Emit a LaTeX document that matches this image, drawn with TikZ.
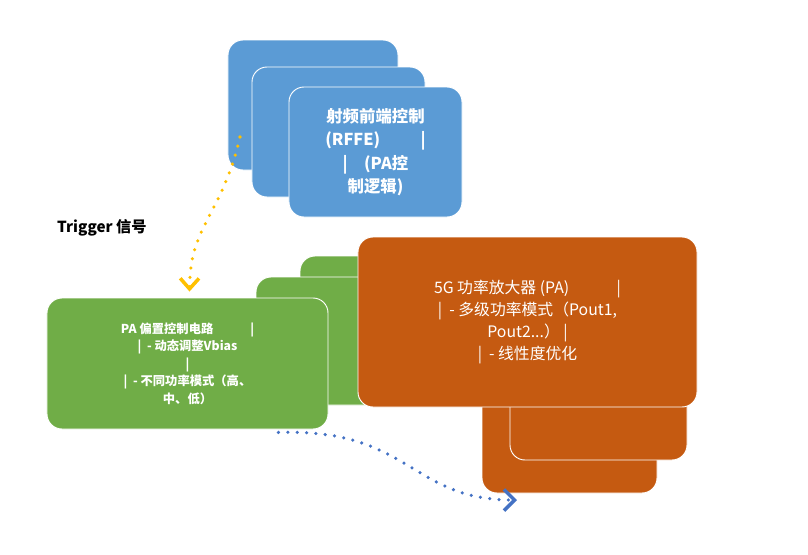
\documentclass[tikz,border=0pt]{standalone}
\usepackage{fontspec}
\setmainfont{Noto Sans CJK SC}
\usetikzlibrary{arrows.meta,positioning,calc}
\definecolor{rfblue}{RGB}{91,155,213}
\definecolor{biasgreen}{RGB}{112,173,71}
\definecolor{paorange}{RGB}{197,90,17}
\definecolor{trigyellow}{RGB}{255,192,0}
\definecolor{flowblue}{RGB}{68,114,196}

\begin{document}
\begin{tikzpicture}[
    x=0.03cm, y=-0.03cm,
    card/.style={rectangle, rounded corners=0.45cm, draw=white, line width=0.8pt,
                 text=white, align=center, inner sep=0pt},
    rfcard/.style={card, fill=rfblue, font=\bfseries\fontsize{14}{20}\selectfont},
    gncard/.style={card, fill=biasgreen, font=\bfseries\fontsize{10.5}{15}\selectfont},
    orcard/.style={card, fill=paorange, font=\fontsize{13.5}{19}\selectfont},
    flow/.style={line width=3pt, line cap=round, dash pattern=on 0pt off 8pt}
]
    \useasboundingbox (0,0) rectangle (808,554);

    % RFFE stack
    \node[rfcard, minimum width=5.1cm, minimum height=3.9cm] (rffeback) at (313,105) {};
    \node[rfcard, minimum width=5.19cm, minimum height=3.9cm] (rffemid) at (338.5,132) {};
    \node[rfcard, minimum width=5.19cm, minimum height=3.9cm] (rffe) at (375.5,152)
        {射频前端控制\\(RFFE)\qquad\ \ |\\|\quad (PA控\\制逻辑)};

    % PA stack (behind)
    \node[orcard, minimum width=5.25cm, minimum height=5.79cm] (paback) at (569.5,396.5) {};
    \node[orcard, minimum width=5.31cm, minimum height=5.4cm] (pamid) at (598.5,370) {};

    % bias stack
    \node[gncard, minimum width=3.6cm, minimum height=4.47cm] (biasback) at (360,330.5) {};
    \node[gncard, minimum width=3.72cm, minimum height=3.84cm] (biasmid) at (318,341) {};
    \node[gncard, minimum width=8.43cm, minimum height=3.93cm] (pabias) at (187.5,363.5)
        {PA 偏置控制电路\qquad\quad |\\|\ \ - 动态调整Vbias\\|\\|\ \ - 不同功率模式（高、\\中、低）};

    % PA front
    \node[orcard, minimum width=10.17cm, minimum height=5.1cm] (pa) at (527.5,322)
        {5G 功率放大器 (PA)\qquad\quad |\\|\ \ - 多级功率模式（Pout1,\\Pout2...）\ |\\|\ \ - 线性度优化};

    % trigger
    \node[font=\bfseries\fontsize{13}{16}\selectfont, anchor=west] (trig) at (53,228) {Trigger 信号};
    \coordinate (trigstart) at (240,137);
    \draw[flow, trigyellow, -{Straight Barb[length=9pt,width=16pt,line width=3pt]}]
        (trigstart) .. controls (222,215) and (190,225) .. ($(pabias.north)+(2,-6)$);

    % output to PA
    \coordinate (paout) at (517,500);
    \draw[flow, flowblue, -{Straight Barb[length=9pt,width=18pt,line width=3pt]}]
        ($(pabias.south east)+(-50,3)$) .. controls (410,428) and (410,500) .. (paout);
\end{tikzpicture}
\end{document}
